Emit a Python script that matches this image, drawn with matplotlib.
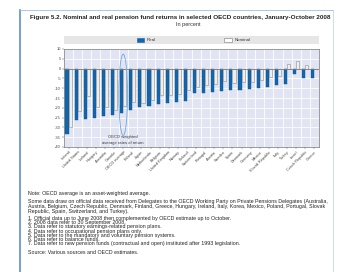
import matplotlib
matplotlib.use("Agg")
import matplotlib.pyplot as plt
from matplotlib.patches import Rectangle, Ellipse
import numpy as np

plt.rcParams['font.family'] = ['Liberation Sans', 'DejaVu Sans']

countries = ["Ireland", "United States", "Iceland", "Hungary", "Australia", "Canada",
             "OECD average", "Poland", "Japan", "Netherlands", "Belgium", "United Kingdom",
             "Norway", "Finland", "Switzerland", "Portugal", "Austria", "Sweden", "Spain",
             "Denmark", "Germany", "Mexico", "Slovak Republic", "Italy", "Turkey", "Israel",
             "Czech Republic", "Greece"]
real = [-33.3, -26.1, -25.5, -25.1, -24.4, -23.9, -22.7, -21.0, -19.6, -18.9, -18.3, -17.6,
        -17.2, -16.6, -12.5, -12.5, -11.9, -11.4, -11.1, -10.8, -10.2, -10.0, -9.6, -8.6,
        -7.7, -2.6, -4.8, -4.8]
nominal = [-29.9, -21.5, -14.2, -19.5, -19.8, -21.3, -19.1, -17.1, -17.6, -16.2, -13.5, -13.5,
           -12.8, -10.8, -9.4, -8.5, -8.0, -6.3, -7.2, -6.8, -6.8, -5.8, -4.3, -3.6,
           2.6, 3.7, 2.0, -0.3]
yticks = [10, 5, 0, -5, -10, -15, -20, -25, -30, -35, -40]

title = "Figure 5.2. Nominal and real pension fund returns in selected OECD countries, January-October 2008"
subtitle = "In percent"
notes = [
    (193, "Note: OECD average is an asset-weighted average."),
    (202, "Some data draw on official data received from Delegates to the OECD Working Party on Private Pensions Delegates (Australia,"),
    (206.5, "Austria, Belgium, Czech Republic, Denmark, Finland, Greece, Hungary, Ireland, Italy, Korea, Mexico, Poland, Portugal, Slovak"),
    (211, "Republic, Spain, Switzerland, and Turkey)."),
    (218.5, "1. Official data up to June 2008 then complemented by OECD estimate up to October."),
    (222.7, "2. 2008 data refer to 30 September 2008."),
    (226.9, "3. Data refer to statutory earnings-related pension plans."),
    (231.1, "4. Data refer to occupational pension plans only."),
    (235.3, "5. Data refer to the mandatory and voluntary pension systems."),
    (239.5, "6. Data refer to balance funds."),
    (243.7, "7. Data refer to new pension funds (contractual and open) instituted after 1993 legislation."),
    (252, "Source: Various sources and OECD estimates."),
]

W, H = 350, 272
fig = plt.figure(figsize=(W / 100, H / 100), dpi=100)
fig.patch.set_facecolor('white')

def fy(py):
    return 1 - py / H

def fx(px):
    return px / W

# outer frame
fig.add_artist(plt.Line2D([fx(20), fx(20)], [fy(10), fy(272)], color='#5B8FC7', lw=1.2))
fig.add_artist(plt.Line2D([fx(20), fx(333)], [fy(10), fy(10)], color='#9FBFE0', lw=0.6))
fig.add_artist(plt.Line2D([fx(333), fx(333)], [fy(10), fy(272)], color='#C8D8EA', lw=0.6))

fig.text(fx(180), fy(17), title, ha='center', va='center', fontsize=4.5, fontweight='bold', color='#222222')
fig.text(fx(188), fy(24.5), subtitle, ha='center', va='center', fontsize=4.0, color='#333333')

# legend band
ax_l, ax_r, ax_t, ax_b = 64, 319, 49, 147
fig.add_artist(Rectangle((fx(ax_l), fy(44)), fx(ax_r) - fx(ax_l), fy(36) - fy(44),
                         transform=fig.transFigure, facecolor='#E6E6E6', edgecolor='none'))
fig.add_artist(Rectangle((fx(137), fy(42)), fx(144) - fx(137), fy(38) - fy(42),
                         transform=fig.transFigure, facecolor='#1466AC', edgecolor='#1466AC', lw=0.4))
fig.text(fx(147), fy(40), "Real", ha='left', va='center', fontsize=3.2, color='#333333')
fig.add_artist(Rectangle((fx(224), fy(42)), fx(231.5) - fx(224), fy(38) - fy(42),
                         transform=fig.transFigure, facecolor='white', edgecolor='#777777', lw=0.4))
fig.text(fx(234.5), fy(40), "Nominal", ha='left', va='center', fontsize=3.2, color='#333333')

ax = fig.add_axes([fx(ax_l), fy(ax_b), fx(ax_r) - fx(ax_l), fy(ax_t) - fy(ax_b)])
ax.set_facecolor('#E1E5F3')
x = np.arange(len(countries))
bw = 0.34
ax.bar(x - 0.17, real, width=bw, color='#1466AC', edgecolor='#0E4F88', lw=0.3, zorder=3)
ax.bar(x + 0.17, nominal, width=bw, color='#EEEEEE', edgecolor='#8C8C8C', lw=0.4, zorder=3)
ax.axhline(0, color='#7A7A7A', lw=0.6, zorder=4)
ax.set_xlim(-0.5, len(countries) - 0.5)
ax.set_ylim(-40, 10)
ax.set_yticks(yticks)
ax.set_yticklabels([str(v) for v in yticks])
ax.set_xticks(x)
ax.set_xticklabels(countries, rotation=45, ha='right', rotation_mode='anchor')
ax.set_xticks(np.arange(-0.5, len(countries), 1), minor=True)
ax.grid(True, which='major', axis='y', color='white', lw=0.6, zorder=0)
ax.grid(True, which='minor', axis='x', color='white', lw=0.6, zorder=0)
ax.tick_params(axis='both', which='major', labelsize=2.9, length=1.2, width=0.3, pad=1,
               colors='#444444')
ax.tick_params(axis='x', which='minor', length=0)
ax.tick_params(axis='x', which='major', labelsize=2.8)
for s in ax.spines.values():
    s.set_color('#8A8A8A')
    s.set_linewidth(0.6)

oecd_i = countries.index("OECD average")
ax.add_patch(Ellipse((oecd_i, -13.4), 0.95, 41.5, facecolor='none', edgecolor='#6FA8DC',
                     lw=0.6, zorder=5))
ax.text(oecd_i, -35.0, "OECD weighted", ha='center', va='center', fontsize=3.0,
        color='#333333', zorder=6)
ax.text(oecd_i, -37.9, "average rates of return", ha='center', va='center', fontsize=3.0,
        color='#333333', zorder=6)

for py, t in notes:
    fig.text(fx(28), fy(py), t, ha='left', va='center', fontsize=3.8, color='#222222')

fig.savefig("out.png", dpi=100)
